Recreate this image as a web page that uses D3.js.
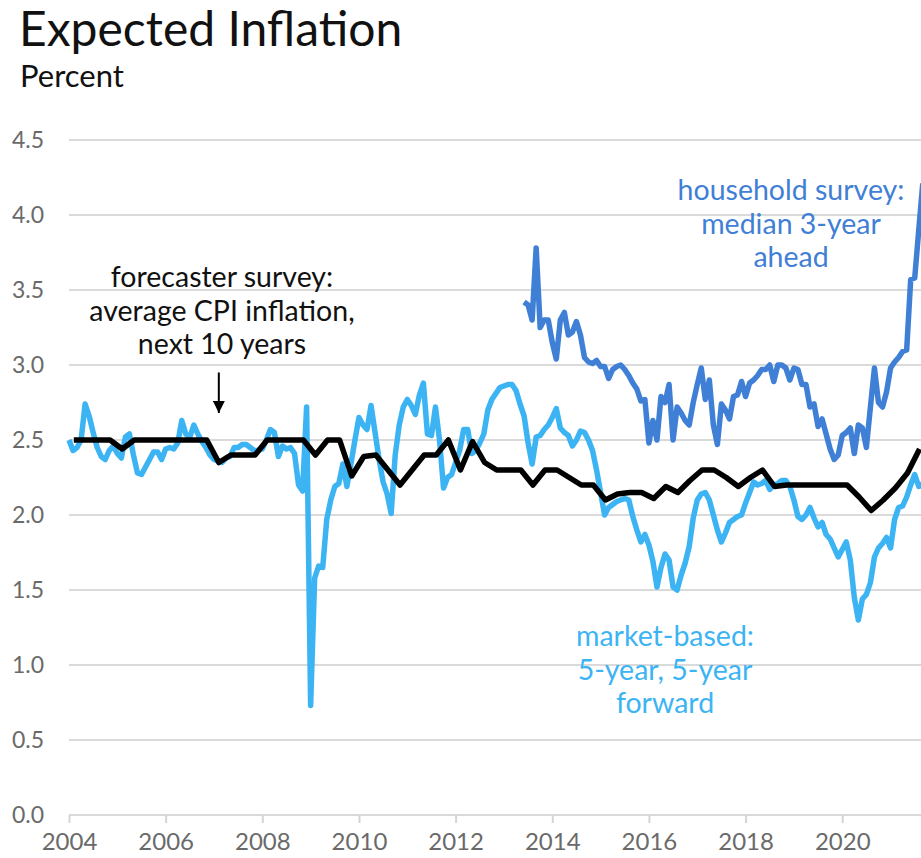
<!DOCTYPE html>
<html>
<head>
<meta charset="utf-8">
<script src="https://cdn.jsdelivr.net/npm/d3@7"></script>
<style>
  body { margin: 0; background: #fff; }
  svg { display: block; font-family: Lato, "Open Sans", sans-serif; }
</style>
</head>
<body>
<div id="chart"></div>
<script>
// market-based 5-year, 5-year forward, monthly from Jan 2004
var marketStart = 2004;
var marketValues = [
  2.5, 2.43, 2.45, 2.5, 2.74, 2.66, 2.55, 2.45, 2.39, 2.37, 2.43, 2.46,
  2.41, 2.38, 2.52, 2.54, 2.4, 2.28, 2.27, 2.32, 2.37, 2.42, 2.42, 2.37,
  2.44, 2.45, 2.44, 2.48, 2.63, 2.54, 2.52, 2.6, 2.54, 2.49, 2.45, 2.4,
  2.37, 2.36, 2.35, 2.38, 2.39, 2.45, 2.45, 2.47, 2.47, 2.45, 2.43, 2.43,
  2.44, 2.5, 2.57, 2.55, 2.39, 2.46, 2.44, 2.45, 2.41, 2.2, 2.16, 2.72,
  0.73, 1.58, 1.66, 1.65, 1.97, 2.1, 2.19, 2.21, 2.34, 2.19, 2.34, 2.5,
  2.65, 2.6, 2.57, 2.73, 2.55, 2.37, 2.22, 2.14, 2.01, 2.4, 2.6, 2.72,
  2.77, 2.73, 2.67, 2.8, 2.88, 2.54, 2.53, 2.72, 2.5, 2.18, 2.25, 2.27,
  2.35, 2.43, 2.57, 2.57, 2.41, 2.43, 2.48, 2.54, 2.7, 2.77, 2.81, 2.85,
  2.86, 2.87, 2.87, 2.83, 2.74, 2.66, 2.48, 2.34, 2.52, 2.53, 2.57, 2.6,
  2.65, 2.71, 2.58, 2.55, 2.53, 2.46, 2.5, 2.56, 2.55, 2.5, 2.43, 2.3,
  2.15, 2.0, 2.05, 2.07, 2.09, 2.1, 2.11, 2.1, 1.99, 1.9, 1.82, 1.87,
  1.8, 1.69, 1.52, 1.65, 1.74, 1.7, 1.52, 1.5, 1.6, 1.68, 1.79, 1.98,
  2.1, 2.14, 2.15, 2.1, 2.0, 1.9, 1.82, 1.88, 1.95, 1.97, 1.99, 2.0,
  2.08, 2.15, 2.22, 2.2, 2.21, 2.23, 2.17, 2.2, 2.21, 2.23, 2.23, 2.19,
  2.1, 1.99, 1.97, 2.0, 2.05, 1.98, 1.92, 1.95, 1.87, 1.84, 1.78, 1.72,
  1.77, 1.82, 1.7, 1.45, 1.3, 1.44, 1.47, 1.55, 1.72, 1.78, 1.81, 1.85,
  1.78, 1.97, 2.05, 2.06, 2.12, 2.2, 2.27, 2.19, 2.21, 2.2
];

// household survey, median 3-year ahead, monthly from Jun 2013
var householdStart = 2013 + 5 / 12;
var householdValues = [
  3.42, 3.4, 3.3, 3.78, 3.25, 3.3, 3.3, 3.15, 3.04, 3.3, 3.35, 3.2,
  3.22, 3.29, 3.2, 3.05, 3.02, 3.01, 3.03, 2.99, 2.99, 2.91, 2.97, 2.99,
  3.0, 2.97, 2.93, 2.88, 2.84, 2.76, 2.77, 2.48, 2.63, 2.5, 2.79, 2.75,
  2.87, 2.5, 2.72, 2.68, 2.63, 2.6, 2.75, 2.87, 2.98, 2.77, 2.9, 2.6,
  2.47, 2.74, 2.7, 2.64, 2.79, 2.8, 2.89, 2.79, 2.88, 2.9, 2.93, 2.97,
  2.97, 3.0, 2.89, 3.0, 3.0, 2.98, 2.9, 2.98, 2.97, 2.87, 2.87, 2.72,
  2.74, 2.59, 2.64, 2.54, 2.44, 2.37, 2.4, 2.53, 2.55, 2.58, 2.41, 2.6,
  2.58, 2.45, 2.72, 2.98, 2.75, 2.72, 2.82, 2.98, 3.02, 3.05, 3.09, 3.1,
  3.57, 3.58, 3.9, 4.21
];

// forecaster survey, average CPI inflation next 10 years, quarterly
var forecasterStart = 2004.1;
var forecasterValues = [
  2.5, 2.5, 2.5, 2.5, 2.44, 2.5, 2.5, 2.5, 2.5, 2.5, 2.5, 2.5,
  2.35, 2.4, 2.4, 2.4, 2.5, 2.5, 2.5, 2.5, 2.4, 2.5, 2.5, 2.26,
  2.39, 2.4, 2.3, 2.2, 2.3, 2.4, 2.4, 2.5, 2.3, 2.49, 2.35, 2.3,
  2.3, 2.3, 2.2, 2.3, 2.3, 2.25, 2.2, 2.2, 2.1, 2.14, 2.15, 2.15,
  2.11, 2.19, 2.15, 2.23, 2.3, 2.3, 2.25, 2.19, 2.25, 2.3, 2.19, 2.2,
  2.2, 2.2, 2.2, 2.2, 2.2, 2.12, 2.03, 2.1, 2.18, 2.28, 2.44
];

var yTicks = [0, 0.5, 1, 1.5, 2, 2.5, 3, 3.5, 4, 4.5];
var xTicks = [2004, 2006, 2008, 2010, 2012, 2014, 2016, 2018, 2020];

var svgWidth = 921;
var svgHeight = 858;

var margin = { top: 140, bottom: 43, left: 69, right: 0 };

var svg = d3.select("#chart")
    .append("svg")
    .attr("width", svgWidth)
    .attr("height", svgHeight);

var xScale = d3.scaleLinear()
    .domain([2004, 2021.63])
    .range([margin.left, svgWidth - margin.right]);

var yScale = d3.scaleLinear()
    .domain([0, 4.5])
    .range([svgHeight - margin.bottom, margin.top]);

// title
svg.append("text")
    .attr("x", 19)
    .attr("y", 46)
    .attr("font-size", "48px")
    .attr("fill", "#111")
    .text("Expected Inflation");

svg.append("text")
    .attr("x", 20)
    .attr("y", 87)
    .attr("font-size", "31px")
    .attr("fill", "#111")
    .text("Percent");

// gridlines
svg.append("g").selectAll("line")
    .data(yTicks)
    .enter()
    .append("line")
    .attr("x1", margin.left)
    .attr("x2", svgWidth)
    .attr("y1", d => yScale(d))
    .attr("y2", d => yScale(d))
    .attr("stroke", "#dadada")
    .attr("stroke-width", 2);

// y labels
svg.append("g").selectAll("text")
    .data(yTicks)
    .enter()
    .append("text")
    .attr("x", 44)
    .attr("y", d => yScale(d))
    .attr("dy", "0.36em")
    .attr("text-anchor", "end")
    .attr("font-size", "23px")
    .attr("fill", "#6a6a6a")
    .text(d => d3.format(".1f")(d));

// x axis
var xAxis = d3.axisBottom(xScale)
    .tickValues(xTicks)
    .tickFormat(d3.format("d"))
    .tickSize(8)
    .tickPadding(10);

var xAxisG = svg.append("g")
    .attr("transform", `translate(0, ${yScale(0)})`)
    .call(xAxis);

xAxisG.select(".domain").remove();
xAxisG.selectAll("line").attr("stroke", "#d4d4d4").attr("stroke-width", 2);
xAxisG.selectAll("text")
    .attr("font-size", "24px")
    .attr("font-family", "Lato, sans-serif")
    .attr("fill", "#6a6a6a");

// lines
function makeLine(start, step) {
    return d3.line()
        .x((d, i) => xScale(start + i * step))
        .y(d => yScale(d));
}

svg.append("path")
    .datum(marketValues)
    .attr("d", makeLine(marketStart, 1 / 12))
    .attr("fill", "none")
    .attr("stroke", "#3cb4f4")
    .attr("stroke-width", 5.5)
    .attr("stroke-linejoin", "round");

svg.append("path")
    .datum(householdValues)
    .attr("d", makeLine(householdStart, 1 / 12))
    .attr("fill", "none")
    .attr("stroke", "#3f80d6")
    .attr("stroke-width", 5.5)
    .attr("stroke-linejoin", "round");

svg.append("path")
    .datum(forecasterValues)
    .attr("d", makeLine(forecasterStart, 0.25))
    .attr("fill", "none")
    .attr("stroke", "#000")
    .attr("stroke-width", 5.5)
    .attr("stroke-linejoin", "round");

// annotations
function addNote(lines, x, y, color) {
    svg.append("text")
        .attr("x", x)
        .attr("y", y)
        .attr("text-anchor", "middle")
        .attr("font-size", "28.5px")
        .attr("fill", color)
        .selectAll("tspan")
        .data(lines)
        .enter()
        .append("tspan")
        .attr("x", x)
        .attr("dy", (d, i) => i === 0 ? 0 : 33.5)
        .text(d => d);
}

addNote(["forecaster survey:", "average CPI inflation,", "next 10 years"], 222, 287, "#111");
addNote(["household survey:", "median 3-year", "ahead"], 791, 200, "#3f80d6");
addNote(["market-based:", "5-year, 5-year", "forward"], 665, 646, "#3cb4f4");

// arrow for forecaster note
svg.append("defs").append("marker")
    .attr("id", "arrow")
    .attr("viewBox", "0 0 10 10")
    .attr("refX", 10)
    .attr("refY", 5)
    .attr("markerWidth", 13)
    .attr("markerHeight", 12)
    .attr("markerUnits", "userSpaceOnUse")
    .attr("orient", "auto")
    .append("path")
    .attr("d", "M0,0 L10,5 L0,10 z")
    .attr("fill", "#000");

svg.append("line")
    .attr("x1", xScale(2007.1))
    .attr("x2", xScale(2007.1))
    .attr("y1", yScale(2.95))
    .attr("y2", yScale(2.68))
    .attr("stroke", "#000")
    .attr("stroke-width", 2)
    .attr("marker-end", "url(#arrow)");
</script>
</body>
</html>
